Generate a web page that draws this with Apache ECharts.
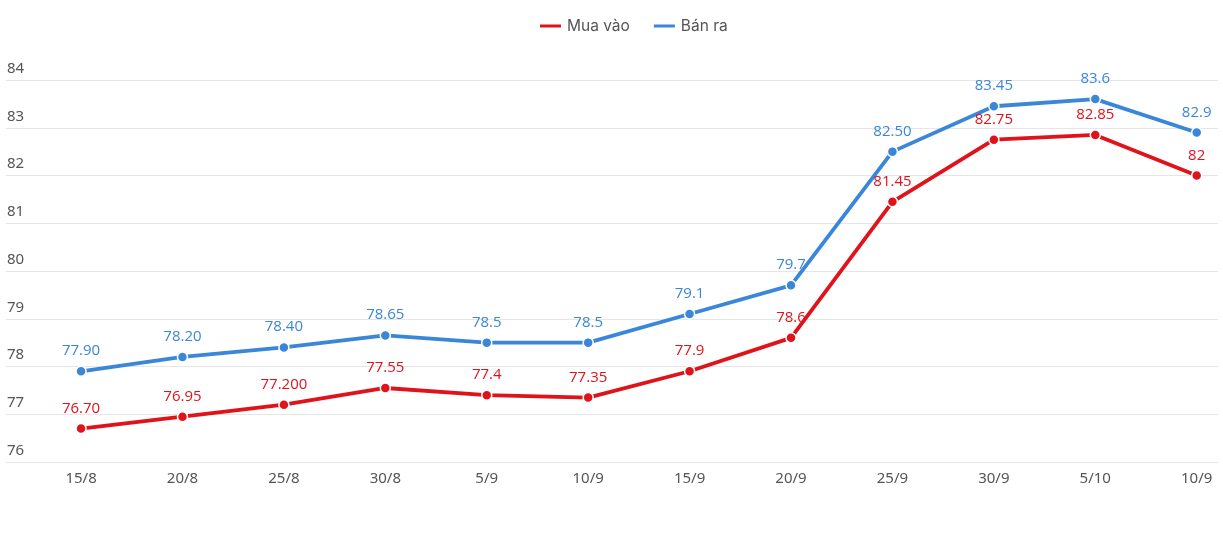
<!DOCTYPE html>
<html><head><meta charset="utf-8">
<script src="https://cdn.jsdelivr.net/npm/echarts@6/dist/echarts.min.js"></script>
<style>html,body{margin:0;padding:0;background:#fff}#c{width:1223px;height:537px}</style>
</head><body><div id="c"></div>
<script>
const categories = ['15/8','20/8','25/8','30/8','5/9','10/9','15/9','20/9','25/9','30/9','5/10','10/9'];
const buyValues = [76.70, 76.95, 77.20, 77.55, 77.4, 77.35, 77.9, 78.6, 81.45, 82.75, 82.85, 82];
const buyLabels = ['76.70','76.95','77.200','77.55','77.4','77.35','77.9','78.6','81.45','82.75','82.85','82'];
const sellValues = [77.90, 78.20, 78.40, 78.65, 78.5, 78.5, 79.1, 79.7, 82.50, 83.45, 83.6, 82.9];
const sellLabels = ['77.90','78.20','78.40','78.65','78.5','78.5','79.1','79.7','82.50','83.45','83.6','82.9'];
const yTicks = [76,77,78,79,80,81,82,83,84];

const RED = '#e0121a', BLUE = '#3a86d9';
function mk(name, vals, labels, color){
  return {
    name, type:'line', data: vals.map((v,i)=>[i,v]),
    symbol:'circle', symbolSize:10,
    lineStyle:{width:3.8, color},
    itemStyle:{color, borderColor:'#fff', borderWidth:1.5},
    label:{show:true, position:'top', distance:7, color, fontSize:15, fontFamily:'Open Sans',
      formatter:p=>labels[p.dataIndex]},
    emphasis:{disabled:true}, animation:false
  };
}
const chart = echarts.init(document.getElementById('c'));
chart.setOption({
  animation:false,
  legend:{top:13, left:533, itemWidth:23, itemHeight:5, itemGap:22,
    icon:'rect',
    textStyle:{fontSize:15.5, color:'#555', fontFamily:'Inter'},
    data:['Mua vào','Bán ra']},
  grid:{left:6, right:5, top:80, bottom:75, containLabel:false},
  xAxis:{type:'value', min:-0.74, max:11.21,
    axisLine:{show:false}, axisTick:{show:false}, splitLine:{show:false},
    axisLabel:{customValues:[0,1,2,3,4,5,6,7,8,9,10,11], formatter:v=>categories[Math.round(v)],
      margin:9, color:'#555', fontSize:15, fontFamily:'Noto Sans'}},
  yAxis:{type:'value', min:yTicks[0], max:yTicks[yTicks.length-1], interval:1,
    axisLine:{show:false}, axisTick:{show:false},
    splitLine:{lineStyle:{color:'#e6e6e6', width:1}},
    axisLabel:{inside:true, margin:1, verticalAlign:'bottom', padding:[0,0,4,0],
      color:'#555', fontSize:15, fontFamily:'Noto Sans'}},
  series:[mk('Mua vào', buyValues, buyLabels, RED), mk('Bán ra', sellValues, sellLabels, BLUE)]
});
</script></body></html>
